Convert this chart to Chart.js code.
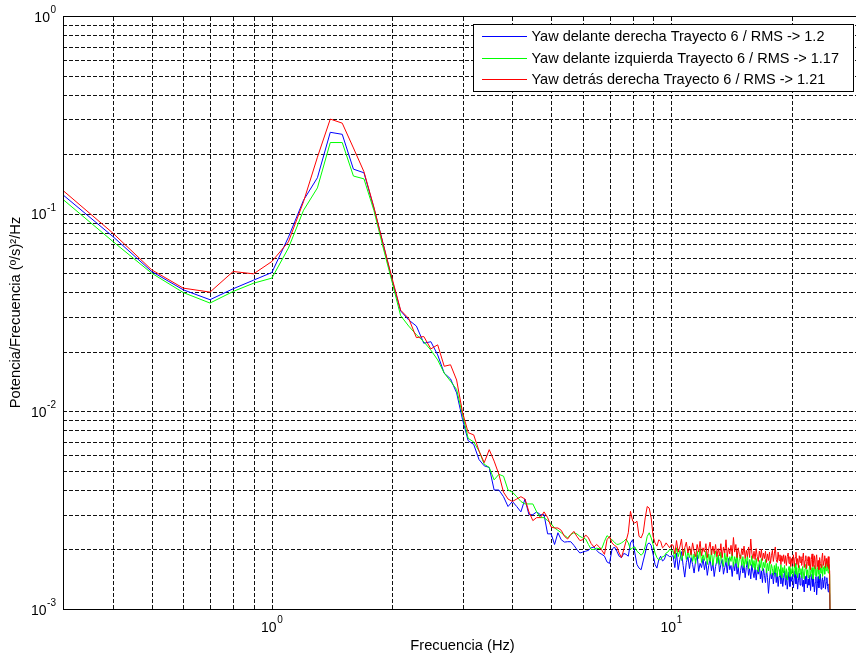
<!DOCTYPE html>
<html>
<head>
<meta charset="utf-8">
<script src="https://cdn.jsdelivr.net/npm/chart.js@4/dist/chart.umd.min.js"></script>
<style>
  html, body { margin: 0; padding: 0; overflow: hidden; background: #fff; }
  #wrap { width: 866px; height: 658px; }
</style>
</head>
<body>
<div id="wrap"><canvas id="psd" width="866" height="658"></canvas></div>
<script>
// Welch PSD bins: 0.1 Hz spacing from 0.3 Hz up to 25 Hz.
const FREQ_START = 0.3;
const FREQ_STEP = 0.1;

// Series values in units of 1e-3 (º/s)²/Hz, one per bin.
const blueMilli = [
  124.5, 76.6, 51.0, 41.2, 36.7, 41.7, 46.1, 50.4, 76.0, 117, 152, 258, 252, 168, 161, 107, 70.0, 46.0,
  32.2, 29.0, 27.0, 22.1, 22.5, 19.3, 15.6, 14.6, 12.4, 9.1,
  7.1, 6.8, 5.7, 5.3, 5.2, 4.0, 4.0, 3.7, 3.3, 3.5,
  3.3, 3.1, 3.6, 3.0, 3.0, 3.1, 3.0, 3.0, 2.4, 2.4,
  2.12, 2.43, 2.24, 2.18, 2.19, 2.19, 2.10, 2.00, 1.92, 1.94,
  1.96, 1.98, 2.04, 2.06, 1.98, 1.92, 1.89, 1.85, 1.73, 1.70,
  2.00, 2.06, 1.96, 1.85, 1.82, 1.91, 1.89, 1.85, 2.16, 2.24,
  1.92, 1.68, 1.61, 1.58, 1.75, 1.92, 2.12, 2.16, 2.10, 1.89,
  1.68, 1.61, 1.78, 1.85, 1.75, 1.78, 1.89, 1.87, 1.84, 1.85,
  1.86, 1.62, 1.92, 1.58, 1.78, 1.95, 1.66, 1.45, 1.72, 1.84,
  1.60, 1.82, 1.68, 1.52, 1.76, 1.88, 1.55, 1.70, 1.62, 1.80,
  1.58, 1.74, 1.48, 1.66, 1.80, 1.56, 1.72, 1.46, 1.64, 1.76,
  1.84, 1.54, 1.68, 1.78, 1.50, 1.62, 1.74, 1.52, 1.80, 1.58,
  1.66, 1.46, 1.72, 1.56, 1.78, 1.50, 1.64, 1.40, 1.56, 1.70,
  1.52, 1.66, 1.44, 1.62, 1.74, 1.48, 1.60, 1.42, 1.68, 1.54,
  1.44, 1.64, 1.40, 1.58, 1.50, 1.68, 1.42, 1.56, 1.36, 1.60,
  1.48, 1.36, 1.58, 1.44, 1.20, 1.40, 1.56, 1.42, 1.52, 1.34,
  1.50, 1.60, 1.36, 1.52, 1.30, 1.46, 1.58, 1.34, 1.50, 1.30,
  1.44, 1.56, 1.32, 1.48, 1.26, 1.40, 1.54, 1.30, 1.46, 1.38,
  1.50, 1.28, 1.42, 1.56, 1.34, 1.46, 1.26, 1.40, 1.52, 1.32,
  1.44, 1.54, 1.30, 1.40, 1.22, 1.46, 1.34, 1.50, 1.28, 1.42,
  1.32, 1.48, 1.24, 1.40, 1.50, 1.30, 1.42, 1.22, 1.36, 1.46,
  1.18, 1.34, 1.46, 1.28, 1.40, 1.50, 1.26, 1.38, 1.44, 1.28,
  1.40, 1.46, 1.26, 1.36, 1.44, 1.30, 1.22, 1.34, 1.18, 0.60
];

const greenMilli = [
  118, 72.3, 50.0, 39.9, 35.3, 40.4, 44.5, 47.2, 67.0, 104, 135, 229, 229, 155, 150, 104, 67.0, 45.0,
  30.5, 27.0, 24.4, 22.5, 20.4, 18.2, 15.6, 14.2, 12.9, 9.6,
  7.3, 7.0, 6.3, 5.4, 5.2, 4.5, 4.8, 4.7, 4.0, 3.9,
  3.7, 3.5, 3.4, 3.4, 3.4, 3.1, 2.9, 2.9, 2.8, 2.7,
  2.57, 2.50, 2.43, 2.36, 2.29, 2.38, 2.43, 2.40, 2.33, 2.29,
  2.26, 2.12, 2.00, 2.00, 2.03, 2.02, 2.03, 2.20, 2.35, 2.29,
  2.24, 2.18, 2.12, 2.13, 2.16, 2.20, 2.26, 2.16, 2.00, 2.04,
  2.06, 1.96, 1.92, 1.87, 1.92, 2.08, 2.33, 2.43, 2.29, 2.12,
  1.92, 1.82, 1.77, 1.78, 1.84, 1.85, 1.92, 1.94, 2.00, 1.98,
  1.96, 1.80, 2.04, 1.84, 1.98, 1.76, 1.92, 2.02, 1.78, 1.94,
  1.82, 2.00, 1.74, 1.90, 1.70, 1.96, 1.80, 2.02, 1.72, 1.88,
  1.76, 1.96, 1.68, 1.90, 1.74, 1.98, 1.66, 1.86, 1.96, 1.70,
  1.88, 1.68, 1.94, 1.74, 1.64, 1.92, 1.72, 1.90, 1.66, 1.84,
  1.74, 1.94, 1.64, 1.84, 1.70, 1.92, 1.62, 1.80, 1.88, 1.66,
  1.84, 1.62, 1.80, 1.68, 1.88, 1.60, 1.78, 1.66, 1.86, 1.62,
  1.76, 1.58, 1.80, 1.64, 1.54, 1.76, 1.62, 1.80, 1.56, 1.72,
  1.62, 1.78, 1.52, 1.70, 1.56, 1.74, 1.50, 1.68, 1.60, 1.48,
  1.66, 1.52, 1.70, 1.46, 1.64, 1.58, 1.48, 1.68, 1.44, 1.62,
  1.52, 1.66, 1.44, 1.60, 1.40, 1.56, 1.64, 1.46, 1.60, 1.50,
  1.64, 1.46, 1.60, 1.70, 1.50, 1.62, 1.44, 1.56, 1.66, 1.50,
  1.60, 1.44, 1.64, 1.52, 1.42, 1.60, 1.68, 1.48, 1.58, 1.44,
  1.56, 1.68, 1.46, 1.54, 1.62, 1.42, 1.58, 1.66, 1.48, 1.60,
  1.46, 1.58, 1.66, 1.50, 1.42, 1.62, 1.52, 1.68, 1.46, 1.58,
  1.64, 1.50, 1.70, 1.56, 1.76, 1.60, 1.52, 1.68, 1.48, 0.70
];

const redMilli = [
  131, 79.7, 52.0, 42.0, 40.1, 51.0, 49.6, 57.3, 72.0, 115, 193, 301, 287, 215, 163, 108, 70.0, 47.0,
  32.5, 29.5, 23.6, 23.9, 20.7, 21.7, 16.9, 17.2, 14.4, 9.9,
  7.8, 7.6, 6.3, 5.5, 6.4, 5.6, 4.8, 3.9, 3.6, 3.5,
  3.6, 3.7, 3.6, 3.1, 2.8, 2.9, 2.9, 3.1, 2.9, 2.6,
  2.57, 2.57, 2.50, 2.33, 2.26, 2.38, 2.47, 2.33, 2.22, 2.24,
  2.37, 2.29, 2.14, 2.06, 2.12, 2.06, 1.98, 1.89, 2.24, 2.33,
  2.16, 2.10, 2.06, 1.92, 1.82, 2.00, 2.20, 2.43, 3.12, 2.78,
  2.72, 2.78, 2.33, 2.29, 2.43, 2.89, 3.30, 3.24, 2.89, 2.33,
  2.16, 2.08, 2.24, 2.20, 2.04, 2.08, 2.16, 2.10, 2.04, 2.12,
  2.10, 1.90, 2.22, 1.94, 2.06, 2.26, 1.86, 2.04, 2.18, 1.92,
  2.08, 1.88, 2.16, 1.96, 1.84, 2.12, 1.94, 2.20, 1.86, 2.04,
  1.94, 2.14, 1.82, 2.02, 2.18, 1.88, 2.08, 1.90, 2.12, 1.84,
  2.02, 1.86, 2.14, 1.82, 2.06, 1.92, 2.24, 1.84, 2.04, 1.90,
  2.10, 1.86, 2.30, 1.94, 2.12, 1.82, 2.04, 1.88, 1.80, 2.02,
  1.88, 2.08, 1.80, 1.98, 1.84, 2.06, 1.82, 2.26, 1.92, 1.80,
  1.96, 1.78, 2.02, 1.84, 1.74, 1.96, 1.82, 2.00, 1.76, 1.92,
  1.80, 1.96, 1.72, 1.90, 1.76, 1.94, 1.70, 1.86, 1.98, 1.74,
  1.90, 2.06, 1.78, 1.72, 1.94, 1.76, 1.88, 1.68, 1.86, 1.74,
  1.88, 1.70, 1.86, 1.66, 1.84, 1.92, 1.70, 1.84, 1.64, 1.80,
  1.70, 1.88, 1.64, 1.82, 1.94, 1.68, 1.80, 1.62, 1.86, 1.72,
  1.84, 1.66, 1.80, 1.92, 1.62, 1.76, 1.86, 1.60, 1.74, 1.84,
  1.66, 1.82, 1.58, 1.78, 1.90, 1.64, 1.76, 1.86, 1.60, 1.78,
  1.88, 1.64, 1.76, 1.58, 1.82, 1.70, 1.62, 1.80, 1.92, 1.66,
  1.76, 1.86, 1.62, 1.80, 1.70, 1.64, 1.84, 1.60, 1.56, 0.65
];

const seriesLabels = [
  'Yaw delante derecha Trayecto 6 / RMS -> 1.2',
  'Yaw delante izquierda Trayecto 6 / RMS -> 1.17',
  'Yaw detrás derecha Trayecto 6 / RMS -> 1.21'
];
const seriesColors = ['#0000ff', '#00ff00', '#ff0000'];

// Grid positions (every 1..9 multiple of each decade) and decade labels.
const xGridValues = [0.3, 0.4, 0.5, 0.6, 0.7, 0.8, 0.9, 1, 2, 3, 4, 5, 6, 7, 8, 9, 10, 20, 30];
const yGridValues = [0.001, 0.002, 0.003, 0.004, 0.005, 0.006, 0.007, 0.008, 0.009,
                     0.01, 0.02, 0.03, 0.04, 0.05, 0.06, 0.07, 0.08, 0.09,
                     0.1, 0.2, 0.3, 0.4, 0.5, 0.6, 0.7, 0.8, 0.9, 1];
const xDecadeValues = [1, 10];
const xDecadeExponents = ['0', '1'];
const yDecadeValues = [0.001, 0.01, 0.1, 1];
const yDecadeExponents = ['-3', '-2', '-1', '0'];

const FONT = '"Liberation Sans", Arial, Helvetica, sans-serif';

const freqs = blueMilli.map((_, i) => Math.round((FREQ_START + i * FREQ_STEP) * 10) / 10);
const toPoints = arr => arr.map((v, i) => ({ x: freqs[i], y: v * 1e-3 }));

// Dashed grid behind the traces, placed with the chart's own log scales.
const dashedGrid = {
  id: 'dashedGrid',
  beforeDatasetsDraw(chart) {
    const { ctx, chartArea: a, scales: { x, y } } = chart;
    ctx.save();
    ctx.strokeStyle = '#111';
    ctx.lineWidth = 1;
    ctx.setLineDash([4, 2]);
    ctx.beginPath();
    x.ticks.forEach(t => {
      const px = Math.round(x.getPixelForValue(t.value)) + 0.5;
      if (px <= a.left + 1 || px >= a.right) return;
      ctx.moveTo(px, a.bottom);
      ctx.lineTo(px, a.top);
    });
    y.ticks.forEach(t => {
      const py = Math.round(y.getPixelForValue(t.value)) + 0.5;
      if (py <= a.top + 1 || py >= a.bottom) return;
      ctx.moveTo(a.left, py);
      ctx.lineTo(a.right, py);
    });
    ctx.stroke();
    ctx.restore();
  }
};

// Axis box, power-of-ten tick labels and the boxed legend in the top right.
const matlabDecor = {
  id: 'matlabDecor',
  afterDraw(chart) {
    const { ctx, chartArea: a, scales: { x, y } } = chart;
    ctx.save();

    ctx.strokeStyle = '#000';
    ctx.lineWidth = 1;
    ctx.strokeRect(Math.round(a.left) + 0.5, Math.round(a.top) + 0.5,
                   Math.round(a.right - a.left), Math.round(a.bottom - a.top));

    ctx.fillStyle = '#000';
    ctx.textBaseline = 'alphabetic';
    ctx.textAlign = 'left';
    const baseFont = '14px ' + FONT;
    const supFont = '10px ' + FONT;

    yDecadeValues.forEach((v, i) => {
      const py = y.getPixelForValue(v);
      const exp = yDecadeExponents[i];
      ctx.font = baseFont; const wb = ctx.measureText('10').width;
      ctx.font = supFont; const we = ctx.measureText(exp).width;
      const x0 = 56 - (wb + 0.5 + we);
      ctx.font = baseFont; ctx.fillText('10', x0, py + 5.5);
      ctx.font = supFont; ctx.fillText(exp, x0 + wb + 0.5, py - 3);
    });

    xDecadeValues.forEach((v, i) => {
      const px = x.getPixelForValue(v);
      const exp = xDecadeExponents[i];
      ctx.font = baseFont; const wb = ctx.measureText('10').width;
      ctx.font = supFont; const we = ctx.measureText(exp).width;
      const x0 = px - (wb + 0.5 + we) / 2;
      ctx.font = baseFont; ctx.fillText('10', x0, a.bottom + 23);
      ctx.font = supFont; ctx.fillText(exp, x0 + wb + 0.5, a.bottom + 14);
    });

    // legend
    const lx = 473.5, ly = 24.5, lw = 380, lh = 67;
    ctx.fillStyle = '#fff';
    ctx.fillRect(lx, ly, lw, lh);
    ctx.strokeStyle = '#000';
    ctx.strokeRect(lx, ly, lw, lh);
    ctx.font = '14.5px ' + FONT;
    ctx.textBaseline = 'middle';
    chart.data.datasets.forEach((ds, i) => {
      const ry = 36 + i * 21.5;
      ctx.strokeStyle = ds.borderColor;
      ctx.lineWidth = 1;
      ctx.beginPath();
      ctx.moveTo(482, Math.round(ry) + 0.5);
      ctx.lineTo(527, Math.round(ry) + 0.5);
      ctx.stroke();
      ctx.fillStyle = '#000';
      ctx.fillText(ds.label, 531.5, ry + 1);
    });

    ctx.restore();
  }
};

new Chart(document.getElementById('psd'), {
  type: 'line',
  data: {
    datasets: [0, 1, 2].map(i => ({
      label: seriesLabels[i],
      data: toPoints([blueMilli, greenMilli, redMilli][i]),
      borderColor: seriesColors[i],
      backgroundColor: seriesColors[i],
      borderWidth: 1,
      pointRadius: 0,
      tension: 0,
      fill: false,
      order: 3 - i
    }))
  },
  options: {
    responsive: false,
    animation: false,
    devicePixelRatio: 1,
    layout: { padding: { left: 0, top: 16, right: 4, bottom: 0 } },
    plugins: { legend: { display: false }, tooltip: { enabled: false } },
    scales: {
      x: {
        type: 'logarithmic',
        min: 0.3,
        max: 30,
        grid: { display: false },
        border: { display: false },
        ticks: { display: false, autoSkip: false },
        afterBuildTicks: s => { s.ticks = xGridValues.map(v => ({ value: v })); },
        afterFit: s => { s.height = 49; },
        title: {
          display: true,
          text: 'Frecuencia (Hz)',
          color: '#000',
          font: { family: FONT, size: 14.7 },
          padding: { top: 0, bottom: 3 }
        }
      },
      y: {
        type: 'logarithmic',
        min: 0.001,
        max: 1,
        grid: { display: false },
        border: { display: false },
        ticks: { display: false, autoSkip: false },
        afterBuildTicks: s => { s.ticks = yGridValues.map(v => ({ value: v })); },
        afterFit: s => { s.width = 63; },
        title: {
          display: true,
          text: 'Potencia/Frecuencia (º/s)²/Hz',
          color: '#000',
          font: { family: FONT, size: 14.7 },
          padding: { top: 7, bottom: 0 }
        }
      }
    }
  },
  plugins: [dashedGrid, matlabDecor]
});
</script>
</body>
</html>
